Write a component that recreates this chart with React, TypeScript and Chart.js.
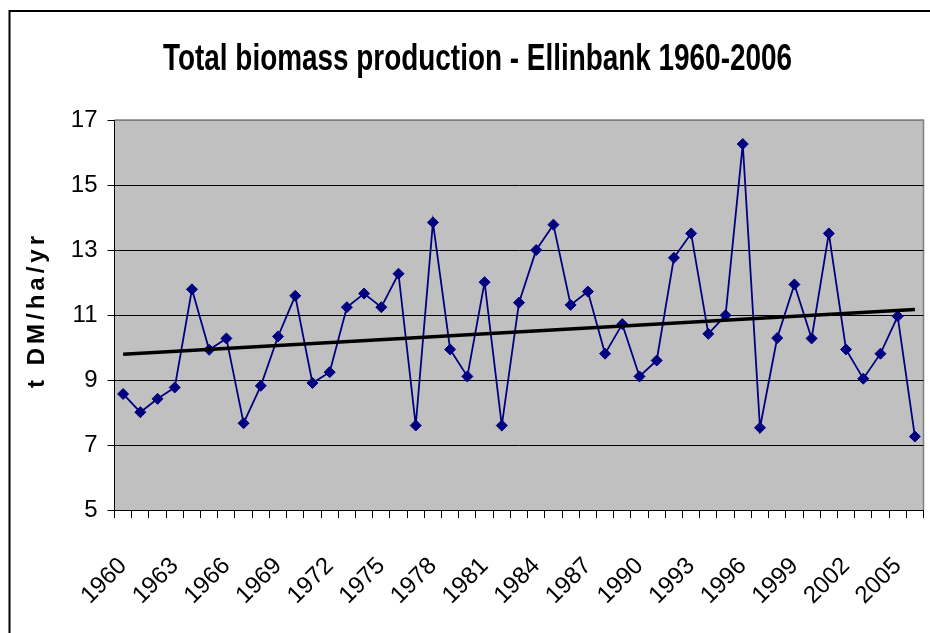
import React, { useEffect, useRef } from 'react';
import { Chart, registerables } from 'chart.js';

Chart.register(...registerables);

const YEARS = [
  '1960', '1961', '1962', '1963', '1964', '1965', '1966', '1967', '1968', '1969',
  '1970', '1971', '1972', '1973', '1974', '1975', '1976', '1977', '1978', '1979',
  '1980', '1981', '1982', '1983', '1984', '1985', '1986', '1987', '1988', '1989',
  '1990', '1991', '1992', '1993', '1994', '1995', '1996', '1997', '1998', '1999',
  '2000', '2001', '2002', '2003', '2004', '2005', '2006',
];

const BIOMASS = [
  8.57, 8.01, 8.42, 8.77, 11.79, 9.93, 10.28, 7.67, 8.82, 10.34,
  11.59, 8.91, 9.24, 11.24, 11.66, 11.24, 12.27, 7.6, 13.85, 9.94,
  9.11, 12.01, 7.6, 11.38, 13.0, 13.78, 11.31, 11.72, 9.81, 10.72,
  9.11, 9.6, 12.76, 13.51, 10.42, 10.99, 16.26, 7.53, 10.29, 11.94,
  10.28, 13.51, 9.94, 9.04, 9.81, 10.96, 7.26,
];

// Linear trend line end values (first and last year)
const TREND = [9.79, 11.17];

const Y_MIN = 5;
const Y_MAX = 17;
const Y_STEP = 2;
const LABEL_EVERY = 3;

const TITLE = 'Total biomass production - Ellinbank 1960-2006';
const Y_TITLE = 't DM/ha/yr';

export default function App() {
  const canvasRef = useRef<HTMLCanvasElement | null>(null);

  useEffect(() => {
    const canvas = canvasRef.current;
    if (!canvas) return;

    const trendData = YEARS.map((_, i) =>
      i === 0 ? TREND[0] : i === YEARS.length - 1 ? TREND[1] : null
    );

    const decor = {
      id: 'decor',
      beforeDraw(chart: any) {
        const { ctx, chartArea } = chart;
        const { left, top, right, bottom } = chartArea;
        ctx.save();
        ctx.fillStyle = '#ffffff';
        ctx.fillRect(0, 0, chart.width, chart.height);
        // plot background
        ctx.fillStyle = '#c0c0c0';
        ctx.fillRect(left, top, right - left, bottom - top);
        ctx.strokeStyle = '#808080';
        ctx.lineWidth = 1.5;
        ctx.beginPath();
        ctx.moveTo(left, top);
        ctx.lineTo(right, top);
        ctx.lineTo(right, bottom);
        ctx.stroke();
        // outer frame
        ctx.strokeStyle = '#000000';
        ctx.lineWidth = 2;
        ctx.beginPath();
        ctx.moveTo(9.5, chart.height + 5);
        ctx.lineTo(9.5, 11);
        ctx.lineTo(chart.width + 5, 11);
        ctx.stroke();
        // title
        ctx.fillStyle = '#000000';
        ctx.font = 'bold 36px "Liberation Sans Narrow", "Liberation Sans", Arial, sans-serif';
        ctx.textAlign = 'center';
        ctx.textBaseline = 'alphabetic';
        const tw = ctx.measureText(TITLE).width;
        const sx = 629 / tw;
        ctx.save();
        ctx.translate(477.5, 69.5);
        ctx.scale(sx, 1);
        ctx.fillText(TITLE, 0, 0);
        ctx.restore();
        // y axis title
        ctx.save();
        ctx.font = 'bold 24px "Liberation Sans", Arial, sans-serif';
        (ctx as any).letterSpacing = '4px';
        ctx.translate(37, 312);
        ctx.rotate(-Math.PI / 2);
        ctx.textAlign = 'center';
        ctx.textBaseline = 'middle';
        ctx.fillText(Y_TITLE, 2, 0);
        ctx.restore();
        ctx.restore();
      },
    };

    const chart = new Chart(canvas, {
      type: 'line',
      data: {
        labels: YEARS,
        datasets: [
          {
            label: 'Trend',
            data: trendData,
            borderColor: '#000000',
            borderWidth: 3.5,
            pointRadius: 0,
            spanGaps: true,
            fill: false,
            order: 0,
          },
          {
            label: 'Total biomass',
            data: BIOMASS,
            borderColor: '#000080',
            backgroundColor: '#000080',
            borderWidth: 1.8,
            pointStyle: 'rectRot',
            pointRadius: 5.5,
            pointBorderWidth: 1,
            pointBackgroundColor: '#000080',
            pointBorderColor: '#000080',
            tension: 0,
            fill: false,
            order: 1,
          },
        ],
      },
      options: {
        responsive: false,
        animation: false,
        layout: { padding: { top: 120, right: 4, left: 0, bottom: 0 } },
        plugins: {
          legend: { display: false },
          title: { display: false },
          tooltip: { enabled: false },
        },
        scales: {
          x: {
            type: 'category',
            offset: true,
            grid: {
              display: true,
              drawOnChartArea: false,
              drawTicks: true,
              tickLength: 8,
              offset: true,
              color: '#000000',
              tickColor: '#000000',
            },
            border: { display: true, color: '#000000', width: 1 },
            ticks: {
              autoSkip: false,
              minRotation: 45,
              maxRotation: 45,
              padding: 34,
              color: '#000000',
              font: { family: '"Liberation Sans", Arial, sans-serif', size: 24 },
              callback: (_v: any, i: number) => (i % LABEL_EVERY === 0 ? YEARS[i] : ''),
            },
            afterFit: (scale: any) => {
              scale.height = 123;
              scale.paddingLeft = 0;
              scale.paddingRight = 0;
            },
          },
          y: {
            min: Y_MIN,
            max: Y_MAX,
            grid: {
              color: (c: any) => (c.tick && c.tick.value === Y_MAX ? '#808080' : '#000000'),
              lineWidth: 1,
              tickLength: 7,
              tickColor: '#000000',
            },
            border: { display: true, color: '#000000', width: 1 },
            ticks: {
              stepSize: Y_STEP,
              padding: 10,
              color: '#000000',
              font: { family: '"Liberation Sans", Arial, sans-serif', size: 24 },
            },
            afterFit: (scale: any) => {
              scale.width = 114.5;
              scale.paddingTop = 0;
              scale.paddingBottom = 0;
            },
          },
        },
      },
      plugins: [decor],
    });

    return () => chart.destroy();
  }, []);

  return (
    <div style={{ position: 'absolute', left: 0, top: 0, width: 930, height: 633, background: '#fff' }}>
      <canvas ref={canvasRef} width={930} height={633} style={{ display: 'block' }} />
    </div>
  );
}
